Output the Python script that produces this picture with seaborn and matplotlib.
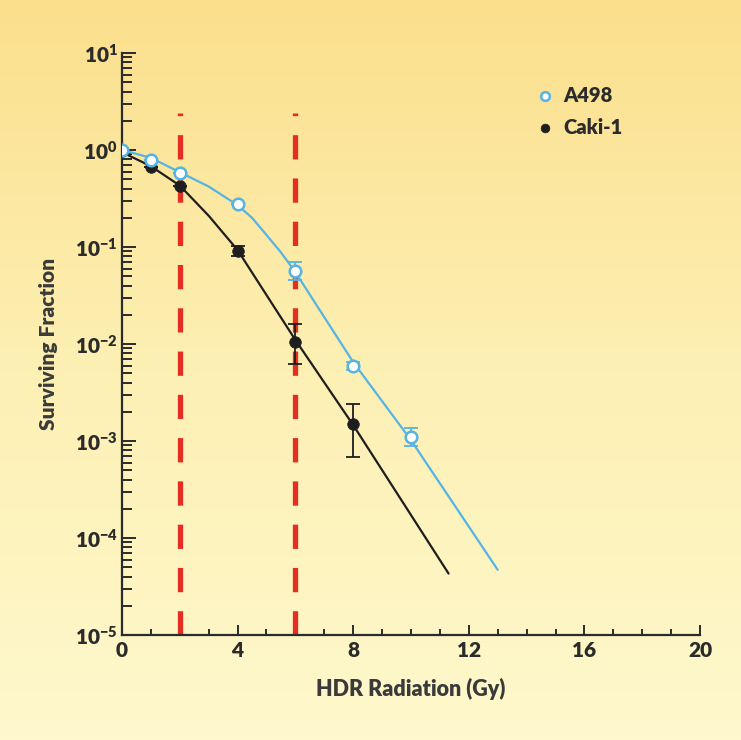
import numpy as np
import pandas as pd
import seaborn as sns
import matplotlib.pyplot as plt
from matplotlib.ticker import FixedLocator, LogLocator, NullFormatter, FuncFormatter
from matplotlib.colors import LinearSegmentedColormap

# measured points
dose = [0, 1, 2, 4, 6, 8, 10]
a498_sf = [1.0, 0.79, 0.58, 0.28, 0.057, 0.0059, 0.0011]
a498_lo = [1.0, 0.79, 0.58, 0.28, 0.046, 0.0054, 0.00089]
a498_hi = [1.0, 0.79, 0.58, 0.28, 0.070, 0.0065, 0.00136]

caki_dose = [0, 1, 2, 4, 6, 8]
caki_sf = [0.97, 0.67, 0.43, 0.091, 0.0105, 0.0015]
caki_lo = [0.97, 0.67, 0.43, 0.081, 0.0062, 0.00068]
caki_hi = [0.97, 0.67, 0.43, 0.102, 0.016, 0.0024]

# fitted curves
a498_fit_x = [0, 1, 2, 3, 4, 4.5, 5, 5.5, 6, 8, 10, 13]
a498_fit_y = [1.0, 0.83, 0.59, 0.42, 0.27, 0.2, 0.133, 0.088, 0.055, 0.0065, 0.00102, 4.7e-5]
caki_fit_x = [0, 1, 2, 3, 4, 6, 8, 11.3]
caki_fit_y = [0.95, 0.68, 0.43, 0.21, 0.093, 0.011, 0.00146, 4.3e-5]

# dose marks
marker_doses = [2, 6]

blue = '#55B4E4'
black = '#1E1E1E'
red = '#E42E24'
ink = '#2B2B2B'
W = 'heavy'

sns.set_theme(style="ticks")
plt.rcParams['font.family'] = ['Lato', 'DejaVu Sans']
plt.rcParams['font.weight'] = W
plt.rcParams['mathtext.fontset'] = 'custom'
plt.rcParams['mathtext.rm'] = 'Lato:heavy'
plt.rcParams['mathtext.bf'] = 'Lato:heavy'

fig = plt.figure(figsize=(7.41, 7.40), dpi=100)

# yellow gradient background, drawn straight onto the figure
cmap = LinearSegmentedColormap.from_list('bg', ['#FBDF8C', '#FDF0B4', '#FEF8CC'])
grad = np.tile(np.linspace(0, 1, 740)[:, None], (1, 741))
fig.figimage(grad, xo=0, yo=0, cmap=cmap, origin='upper', zorder=-10)

ax = fig.add_axes([0.1646, 0.1419, 0.7801, 0.7865])
ax.patch.set_alpha(0)

fit = pd.concat([
    pd.DataFrame({'x': a498_fit_x, 'y': a498_fit_y, 'line': 'A498'}),
    pd.DataFrame({'x': caki_fit_x, 'y': caki_fit_y, 'line': 'Caki-1'}),
])
sns.lineplot(data=fit, x='x', y='y', hue='line', palette={'A498': blue, 'Caki-1': black},
             sort=False, linewidth=1.6, legend=False, ax=ax, zorder=3)

ax.vlines(marker_doses, 1e-5, 2.4, colors=red, linewidth=3.8,
          linestyles=[(0, (4.6, 3.6))], zorder=2)

ax.errorbar(caki_dose, caki_sf,
            yerr=[np.array(caki_sf) - np.array(caki_lo), np.array(caki_hi) - np.array(caki_sf)],
            fmt='none', ecolor=black, elinewidth=1.3, capsize=5, capthick=1.3, zorder=4)
ax.errorbar(dose, a498_sf,
            yerr=[np.array(a498_sf) - np.array(a498_lo), np.array(a498_hi) - np.array(a498_sf)],
            fmt='none', ecolor=blue, elinewidth=1.3, capsize=5, capthick=1.3, zorder=4)

sns.scatterplot(x=caki_dose, y=caki_sf, color=black, s=70, edgecolor=black,
                linewidth=0.5, label='Caki-1', ax=ax, zorder=5)
sns.scatterplot(x=dose, y=a498_sf, color='white', s=70, edgecolor=blue,
                linewidth=1.8, label='A498', ax=ax, zorder=6)

ax.set_yscale('log')
ax.set_xlim(0, 20)
ax.set_ylim(1e-5, 10)

ax.xaxis.set_major_locator(FixedLocator([0, 4, 8, 12, 16, 20]))
ax.xaxis.set_minor_locator(FixedLocator(list(range(0, 21))))
ax.yaxis.set_major_locator(LogLocator(base=10, numticks=10))
ax.yaxis.set_minor_locator(LogLocator(base=10, subs=np.arange(2, 10), numticks=20))
ax.yaxis.set_minor_formatter(NullFormatter())
ax.yaxis.set_major_formatter(FuncFormatter(
    lambda v, p: r'$\mathbf{10^{%d}}$' % int(round(np.log10(v)))))

ax.tick_params(axis='both', which='both', direction='in', colors=ink,
               labelsize=15, width=1.4)
ax.tick_params(axis='y', which='major', length=10, pad=3)
ax.tick_params(axis='y', which='minor', length=7)
ax.tick_params(axis='x', which='major', length=7, pad=4)
ax.tick_params(axis='x', which='minor', length=4)
for t in ax.get_xticklabels():
    t.set_fontweight(W)

sns.despine(ax=ax)
for s in ['left', 'bottom']:
    ax.spines[s].set_color(ink)
    ax.spines[s].set_linewidth(1.6)

ax.set_xlabel('HDR Radiation (Gy)', fontsize=15.5, fontweight=W, color='#3A3A3A', labelpad=13)
ax.set_ylabel('Surviving Fraction', fontsize=15, fontweight=W, color='#3A3A3A', labelpad=12)

handles, labels = ax.get_legend_handles_labels()
order = [labels.index('A498'), labels.index('Caki-1')]
leg = ax.legend([handles[i] for i in order], [labels[i] for i in order],
                loc='upper left', bbox_to_anchor=(0.683, 0.975), frameon=False,
                fontsize=14.5, handlelength=1.0, handletextpad=0.4,
                labelspacing=0.65, markerscale=0.75)
for t in leg.get_texts():
    t.set_fontweight(W)
    t.set_color('#2B2B2B')

fig.savefig('out.png', dpi=100)
